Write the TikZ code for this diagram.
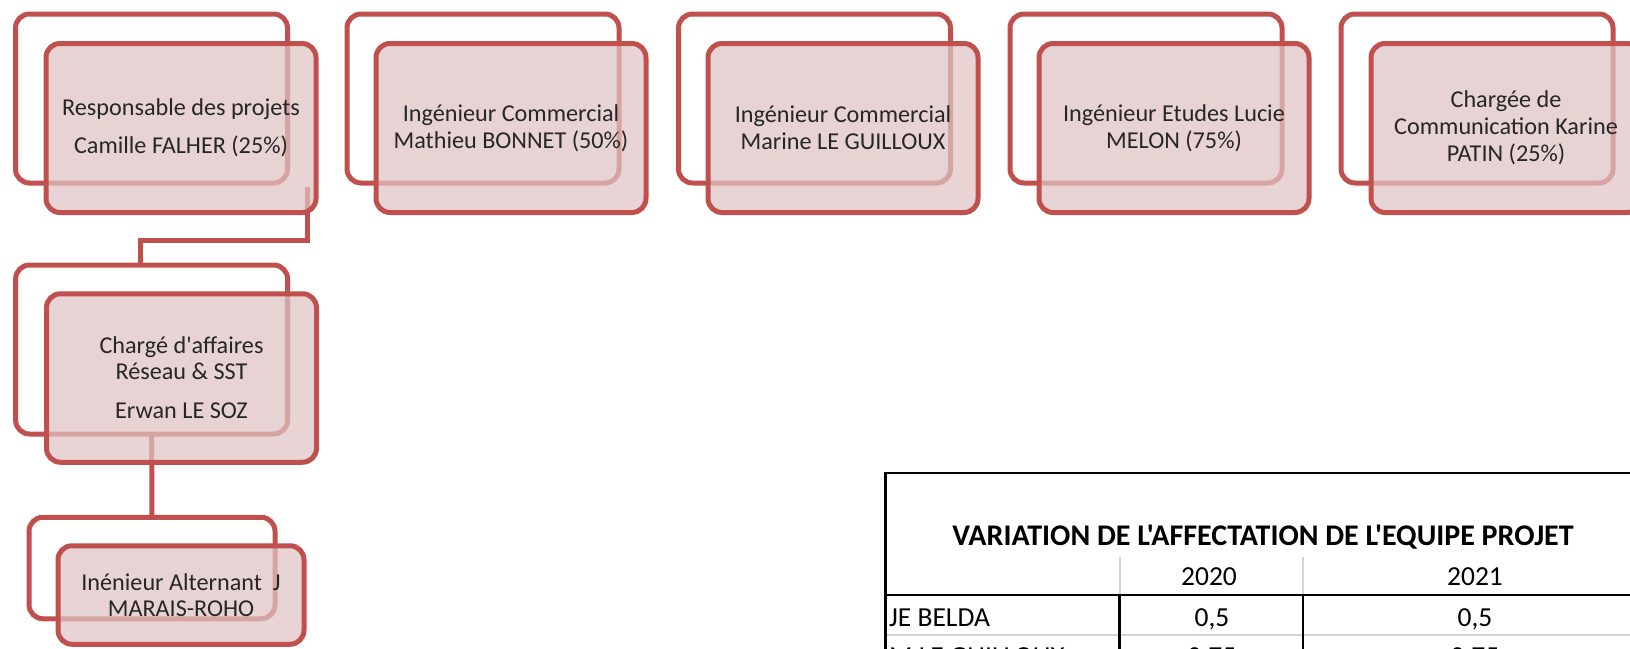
\documentclass[tikz,border=0pt]{standalone}
\usepackage{fontspec}
\setmainfont{Carlito}[Ligatures=TeXOff]
\definecolor{acc}{HTML}{C0504D}
\definecolor{frontfill}{RGB}{223,196,196}
\definecolor{txt}{HTML}{262626}
\tikzset{
  backbox/.style={draw=acc, line width=5pt, rounded corners=14pt, fill=white,
    minimum width=272pt, minimum height=169pt, inner sep=0pt, outer sep=0pt},
  frontbox/.style={draw=acc, line width=5pt, rounded corners=14pt, fill=frontfill,
    fill opacity=0.73, text opacity=1, minimum width=270pt, minimum height=169pt,
    align=center, inner sep=0pt, outer sep=0pt, text=txt,
    font=\fontsize{24.2}{27}\selectfont},
  conn/.style={draw=acc, line width=5pt},
  tblline/.style={draw=black, line width=2.5pt},
  tblgray/.style={draw=black!17, line width=2pt},
  tbltext/.style={font=\fontsize{27.5}{32}\selectfont, inner sep=0pt, text=black},
}
\begin{document}
\begin{tikzpicture}[x=1pt,y=-1pt]
\useasboundingbox (0,0) rectangle (1630,648);
\clip (0,0) rectangle (1630,648);
% back boxes
\node[backbox] (b1) at (151.5,98.5) {};
\node[backbox] (b2) at (483,98.5) {};
\node[backbox] (b3) at (814.5,98.5) {};
\node[backbox] (b4) at (1146,98.5) {};
\node[backbox] (b5) at (1477,98.5) {};
\node[backbox] (b6) at (151.6,349.5) {};
\node[backbox, minimum width=246pt, minimum height=101.5pt] (b7) at (152,568) {};
% connectors
\coordinate (c1) at (307.5,187);
\coordinate (k1) at (140.5,240);
\draw[conn] (c1) |- (k1) -- (k1 |- b6.north);
\draw[conn] (b6.south) -- (b7.north);
% front boxes
\node[frontbox] (f1) at (181,128) {Responsable des projets\\[11pt]Camille FALHER (25\%)};
\node[frontbox] (f2) at (511,128) {Ingénieur Commercial\\Mathieu BONNET (50\%)};
\node[frontbox] (f3) at (843,128) {Ingénieur Commercial\\Marine LE GUILLOUX};
\node[frontbox] (f4) at (1174,128) {Ingénieur Etudes Lucie\\MELON (75\%)};
\node[frontbox] (f5) at (1506,128) {Chargée de\\Communication Karine\\PATIN (25\%)};
\node[frontbox, minimum height=168.5pt] (f6) at (181.5,378) {Chargé d'affaires\\[-1pt]Réseau \& SST\\[12pt]Erwan LE SOZ};
\node[frontbox, minimum width=246pt, minimum height=98.5pt] (f7) at (181,595) {Inénieur Alternant\ \ J\\[-1pt]MARAIS-ROHO};
% table
\draw[tblgray] (1120,557) -- (1120,595);
\draw[tblgray] (1303,557) -- (1303,595);
\draw[tblgray] (887,635) -- (1700,635);
\draw[tblline] (1700,473) -| (885.5,670);
\draw[tblline] (885.5,595) -- (1700,595);
\draw[tblline] (1119.5,595) -- (1119.5,670);
\draw[tblline] (1303,595) -- (1303,670);
\node[tbltext, font=\bfseries\fontsize{30}{34}\selectfont, anchor=base] (title) at (1263,545) {VARIATION DE L'AFFECTATION DE L'EQUIPE PROJET};
\node[tbltext, anchor=base] (y1) at (1209,585) {2020};
\node[tbltext, anchor=base] (y2) at (1475,585) {2021};
\node[tbltext, anchor=base west] (r1) at (889,626) {JE BELDA};
\node[tbltext, anchor=base] (r1a) at (1212,626) {0,5};
\node[tbltext, anchor=base] (r1b) at (1475,626) {0,5};
\node[tbltext, anchor=base west] (r2) at (889,665) {M LE GUILLOUX};
\node[tbltext, anchor=base] (r2a) at (1212,665) {0,75};
\node[tbltext, anchor=base] (r2b) at (1475,665) {0,75};
\end{tikzpicture}
\end{document}
